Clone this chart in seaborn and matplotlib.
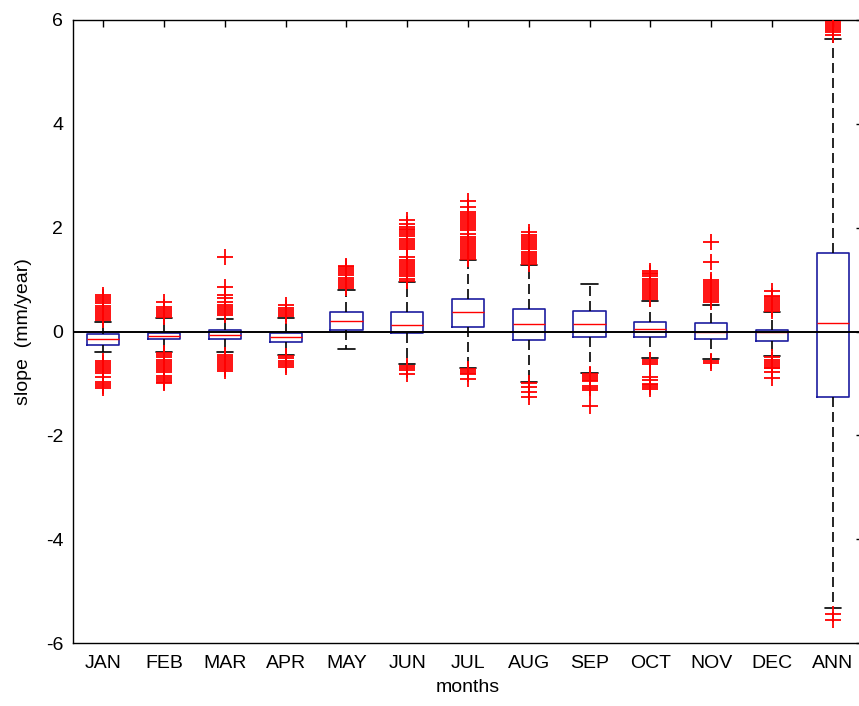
import pandas as pd
import matplotlib
matplotlib.use("Agg")
import matplotlib.pyplot as plt
import seaborn as sns

months = ["JAN", "FEB", "MAR", "APR", "MAY", "JUN", "JUL",
          "AUG", "SEP", "OCT", "NOV", "DEC", "ANN"]

# five-number summary of each box
whisker_low = [-0.40, -0.39, -0.40, -0.46, -0.33, -0.62, -0.70, -0.97, -0.79, -0.52, -0.53, -0.48, -5.33]
quart_low = [-0.26, -0.15, -0.15, -0.20, 0.02, -0.03, 0.08, -0.17, -0.10, -0.10, -0.15, -0.18, -1.27]
medians = [-0.15, -0.09, -0.07, -0.10, 0.21, 0.13, 0.37, 0.15, 0.15, 0.05, 0.00, -0.01, 0.16]
quart_high = [-0.05, -0.02, 0.03, -0.02, 0.37, 0.37, 0.62, 0.44, 0.40, 0.19, 0.16, 0.03, 1.51]
whisker_high = [0.18, 0.26, 0.25, 0.26, 0.80, 0.96, 1.37, 1.28, 0.92, 0.58, 0.52, 0.37, 5.63]

# outliers ('+' markers); dense runs are the solid red blocks
outliers = {
    "JAN": [0.22, 0.26, 0.30, 0.34, 0.38, 0.42, 0.46, 0.50, 0.54, 0.58, 0.62, 0.66, 0.70,
            -0.56, -0.60, -0.64, -0.68, -0.72, -0.76, -0.79, -0.88, -0.98, -1.02, -1.05, -1.08],
    "FEB": [0.28, 0.32, 0.36, 0.40, 0.44, 0.48, 0.57,
            -0.42, -0.46, -0.50, -0.54, -0.58, -0.62, -0.66, -0.70, -0.74, -0.78,
            -0.86, -0.90, -0.94, -0.98, -1.00],
    "MAR": [0.32, 0.35, 0.39, 0.43, 0.47, 0.51, 0.57, 0.64, 0.70, 0.86, 1.43,
            -0.45, -0.49, -0.53, -0.57, -0.61, -0.65, -0.69, -0.73, -0.76],
    "APR": [0.29, 0.33, 0.37, 0.41, 0.45, 0.51,
            -0.48, -0.52, -0.56, -0.60, -0.64, -0.68],
    "MAY": [0.84, 0.88, 0.92, 0.96, 1.00, 1.04, 1.08, 1.12, 1.16, 1.20, 1.24, 1.26],
    "JUN": [0.98, 1.02, 1.06, 1.10, 1.14, 1.18, 1.22, 1.26, 1.30, 1.34, 1.37, 1.43,
            1.59, 1.63, 1.67, 1.71, 1.75, 1.79, 1.83, 1.87, 1.91, 1.95, 1.98, 2.01, 2.07, 2.14,
            -0.66, -0.70, -0.75, -0.82],
    "JUL": [1.39, 1.43, 1.47, 1.51, 1.55, 1.59, 1.63, 1.67, 1.71, 1.75, 1.79, 1.82, 1.88,
            1.95, 1.99, 2.03, 2.07, 2.11, 2.15, 2.19, 2.23, 2.27, 2.30, 2.40, 2.52,
            -0.72, -0.76, -0.80, -0.82, -0.91],
    "AUG": [1.30, 1.34, 1.38, 1.42, 1.46, 1.50, 1.54, 1.58, 1.62, 1.66, 1.70, 1.74, 1.78,
            1.82, 1.85, 1.91,
            -0.99, -1.07, -1.17, -1.27],
    "SEP": [-0.81, -0.85, -0.89, -0.93, -0.95, -1.05, -1.08, -1.12, -1.43],
    "OCT": [0.62, 0.66, 0.70, 0.74, 0.78, 0.82, 0.86, 0.90, 0.94, 0.98, 1.02, 1.06, 1.10,
            1.12, 1.16,
            -0.55, -0.59, -0.63, -0.87, -0.94, -1.01, -1.03, -1.07, -1.11],
    "NOV": [0.56, 0.60, 0.64, 0.68, 0.72, 0.76, 0.80, 0.84, 0.88, 0.92, 0.96, 0.99, 1.34, 1.73,
            -0.57, -0.60],
    "DEC": [0.39, 0.43, 0.47, 0.51, 0.55, 0.59, 0.63, 0.67, 0.69, 0.78,
            -0.50, -0.54, -0.58, -0.62, -0.66, -0.70, -0.71, -0.78, -0.89],
    "ANN": [5.72, 5.76, 5.80, 5.84, 5.88, 5.92, 5.96, -5.45, -5.55],
}

sns.set_style("white")
plt.rcParams["font.family"] = ["Liberation Sans", "DejaVu Sans"]
plt.rcParams["axes.unicode_minus"] = False

rows = []
for i, m in enumerate(months):
    for v in (whisker_low[i], quart_low[i], medians[i], quart_high[i], whisker_high[i]):
        rows.append((m, v))
box_df = pd.DataFrame(rows, columns=["month", "slope"])
out_df = pd.DataFrame([(m, v) for m in months for v in outliers[m]],
                      columns=["month", "slope"])

fig = plt.figure(figsize=(8.59, 7.06), dpi=100)
ax = fig.add_axes([73 / 859, 1 - 643 / 706, 790 / 859, 623 / 706])

sns.boxplot(data=box_df, x="month", y="slope", order=months, whis=(0, 100),
            width=0.53, fill=False, color="#1c1ca0", linewidth=1.2,
            showfliers=False, ax=ax)

for c in ax.containers:
    for w in getattr(c, "whiskers", []):
        w.set_color("black")
        w.set_linestyle((0, (6, 3)))
    for cap in getattr(c, "caps", []):
        cap.set_color("black")
    for md in getattr(c, "medians", []):
        md.set_color("red")
        md.set_linewidth(1.0)
    for b in getattr(c, "boxes", []):
        b.set_color("#1c1ca0")

sns.stripplot(data=out_df, x="month", y="slope", order=months, jitter=False,
              marker="+", color="red", size=11, linewidth=1.3, ax=ax, zorder=4)

ax.axhline(0, color="black", lw=1.4, zorder=5)

ax.set_xlim(-0.5, 12.5)
ax.set_ylim(-6, 6)
ax.set_yticks([-6, -4, -2, 0, 2, 4, 6])
ax.set_yticklabels(["-6", "-4", "-2", "0", "2", "4", "6"])
ax.tick_params(direction="in", length=5, width=1, top=True, right=True,
               labelsize=14, colors="black")
ax.tick_params(axis="x", pad=9)
ax.tick_params(axis="y", pad=7)
for s in ax.spines.values():
    s.set_color("black")
    s.set_linewidth(1)

ax.set_xlabel("months", fontsize=14, labelpad=5, color="black")
ax.set_ylabel("slope  (mm/year)", fontsize=14, labelpad=10, color="black")

fig.savefig("out.png", dpi=100)
